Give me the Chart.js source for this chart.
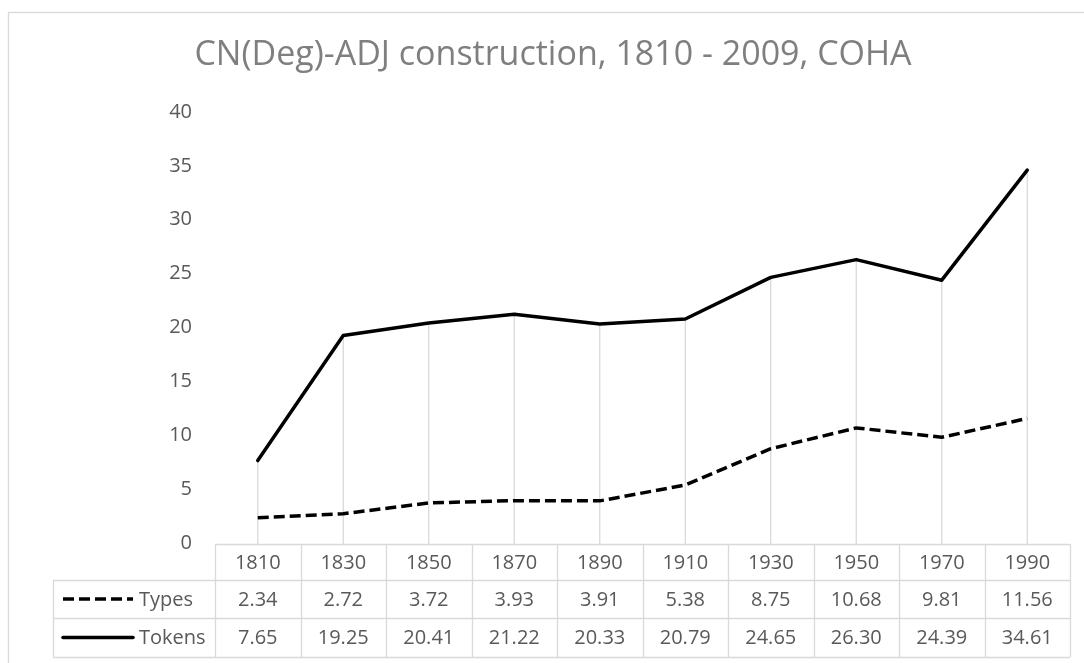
<!DOCTYPE html>
<html>
<head>
<meta charset="utf-8">
<script src="https://cdn.jsdelivr.net/npm/chart.js@4.4.1/dist/chart.umd.min.js"></script>
<style>
  html, body { margin: 0; padding: 0; background: #fff; overflow: hidden; }
  #wrap { position: relative; width: 1084px; height: 663px; }
</style>
</head>
<body>
<div id="wrap"><canvas id="wykres" width="1084" height="663"></canvas></div>
<script>
// dane z wykresu
const lata = ['1810', '1830', '1850', '1870', '1890', '1910', '1930', '1950', '1970', '1990'];
const types = [2.34, 2.72, 3.72, 3.93, 3.91, 5.38, 8.75, 10.68, 9.81, 11.56];
const tokens = [7.65, 19.25, 20.41, 21.22, 20.33, 20.79, 24.65, 26.30, 24.39, 34.61];
const nazwySerii = ['Types', 'Tokens'];
const osY = { min: 0, max: 40, krok: 5 };
const tytul = 'CN(Deg)-ADJ construction, 1810 - 2009, COHA';

const kolorTekstu = '#595959';
const kolorSiatki = '#d9d9d9';
const czcionka = "'Open Sans', 'Noto Sans', sans-serif";

// ramka i tlo
const tloPlugin = {
    id: 'tlo',
    beforeDraw(chart) {
        const ctx = chart.ctx;
        ctx.save();
        ctx.fillStyle = '#fff';
        ctx.fillRect(0, 0, chart.width, chart.height);
        ctx.strokeStyle = kolorSiatki;
        ctx.lineWidth = 1.3;
        ctx.strokeRect(8.5, 12.5, chart.width + 20, chart.height + 20);
        ctx.restore();
    }
};

// linie opadajace od punktow do osi
const linieOpadajace = {
    id: 'linieOpadajace',
    beforeDatasetsDraw(chart) {
        const ctx = chart.ctx;
        const metas = chart.getSortedVisibleDatasetMetas();
        if (!metas.length) return;
        ctx.save();
        ctx.strokeStyle = kolorSiatki;
        ctx.lineWidth = 1.3;
        metas[0].data.forEach((pt, i) => {
            let gora = pt.y;
            metas.forEach(m => { gora = Math.min(gora, m.data[i].y); });
            ctx.beginPath();
            ctx.moveTo(pt.x, gora);
            ctx.lineTo(pt.x, chart.chartArea.bottom + 1);
            ctx.stroke();
        });
        ctx.restore();
    }
};

// tabela danych pod wykresem
const tabelaDanych = {
    id: 'tabelaDanych',
    afterDraw(chart) {
        const ctx = chart.ctx;
        const x = chart.scales.x;
        const dol = chart.chartArea.bottom;
        const n = lata.length;
        const szer = (chart.chartArea.right - chart.chartArea.left) / n;
        const lewo = chart.chartArea.left;
        const prawo = chart.chartArea.right;
        const lewoLegendy = 53;
        const wiersze = [dol + 1, dol + 37, dol + 75, dol + 114];

        ctx.save();
        ctx.strokeStyle = kolorSiatki;
        ctx.lineWidth = 1.3;
        ctx.beginPath();
        ctx.moveTo(lewo, wiersze[0] + 0.5);
        ctx.lineTo(prawo, wiersze[0] + 0.5);
        for (let r = 1; r < wiersze.length; r++) {
            ctx.moveTo(lewoLegendy, wiersze[r] + 0.5);
            ctx.lineTo(prawo, wiersze[r] + 0.5);
        }
        for (let k = 0; k <= n; k++) {
            const xx = Math.round(lewo + k * szer) + 0.5;
            ctx.moveTo(xx, wiersze[0]);
            ctx.lineTo(xx, wiersze[3]);
        }
        ctx.moveTo(lewoLegendy + 0.5, wiersze[1]);
        ctx.lineTo(lewoLegendy + 0.5, wiersze[3]);
        ctx.stroke();

        ctx.font = '20px ' + czcionka;
        ctx.fillStyle = kolorTekstu;
        ctx.textBaseline = 'middle';

        chart.data.datasets.forEach((ds, d) => {
            const srodek = (wiersze[d + 1] + wiersze[d + 2]) / 2 + 1;
            // probka linii
            ctx.save();
            ctx.strokeStyle = ds.borderColor;
            ctx.lineWidth = ds.borderWidth;
            ctx.lineCap = ds.borderDash && ds.borderDash.length ? 'butt' : 'round';
            ctx.setLineDash(ds.borderDash || []);
            ctx.beginPath();
            ctx.moveTo(63, srodek - 1);
            ctx.lineTo(133, srodek - 1);
            ctx.stroke();
            ctx.restore();
            ctx.textAlign = 'left';
            ctx.fillText(ds.label, 139, srodek);
            ctx.textAlign = 'center';
            ds.data.forEach((v, i) => {
                ctx.fillText(v.toFixed(2), x.getPixelForValue(i), srodek);
            });
        });
        ctx.restore();
    }
};

const ctx = document.getElementById('wykres').getContext('2d');
const chart = new Chart(ctx, {
    type: 'line',
    data: {
        labels: lata,
        datasets: [
            {
                label: nazwySerii[0],
                data: types,
                borderColor: '#000',
                borderWidth: 3.5,
                borderDash: [11, 5],
                pointRadius: 0,
                tension: 0,
                fill: false
            },
            {
                label: nazwySerii[1],
                data: tokens,
                borderColor: '#000',
                borderWidth: 3.5,
                borderCapStyle: 'round',
                borderJoinStyle: 'round',
                pointRadius: 0,
                tension: 0,
                fill: false
            }
        ]
    },
    options: {
        responsive: false,
        animation: false,
        layout: { padding: { left: 36, right: 14, top: 0, bottom: 0 } },
        plugins: {
            legend: { display: false },
            tooltip: { enabled: false },
            title: {
                display: true,
                text: tytul,
                color: '#7f7f7f',
                font: { family: czcionka, size: 34, weight: 'normal', lineHeight: 1.2 },
                padding: { top: 35, bottom: 36.2 }
            }
        },
        scales: {
            x: {
                offset: true,
                grid: { display: false, drawTicks: false },
                border: { display: false },
                ticks: {
                    color: kolorTekstu,
                    font: { family: czcionka, size: 20 },
                    padding: 8,
                    maxRotation: 0,
                    autoSkip: false
                },
                afterFit(scale) { scale.height = 120; }
            },
            y: {
                min: osY.min,
                max: osY.max,
                grid: { display: false, drawTicks: false },
                border: { display: false },
                ticks: {
                    stepSize: osY.krok,
                    color: kolorTekstu,
                    font: { family: czcionka, size: 20 },
                    padding: 23
                },
                afterFit(scale) { scale.width = 179; }
            }
        }
    },
    plugins: [tloPlugin, linieOpadajace, tabelaDanych]
});
</script>
</body>
</html>
